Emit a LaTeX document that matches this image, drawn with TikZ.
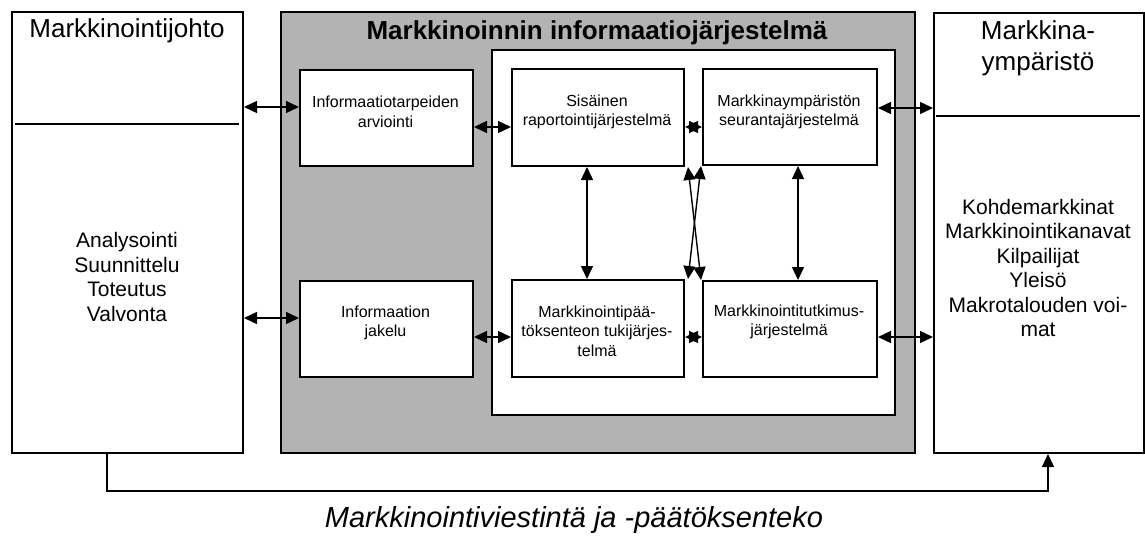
\documentclass[tikz,border=0pt]{standalone}
\usepackage{fontspec}
\setmainfont{Liberation Sans}
\usetikzlibrary{arrows.meta}
\definecolor{panelgray}{RGB}{179,179,179}
\begin{document}
\begin{tikzpicture}[x=1pt,y=-1pt,
  box/.style={draw, line width=2pt, fill=white, inner sep=0pt, anchor=north west},
  bigtxt/.style={font=\fontsize{26}{31}\selectfont, align=center, inner sep=0pt},
  bodytxt/.style={font=\fontsize{21}{24.5}\selectfont, align=center, inner sep=0pt},
  smalltxt/.style={font=\fontsize{16}{19.5}\selectfont, align=center, inner sep=0pt},
  arr/.style={{Triangle[length=13pt,width=12pt]}-{Triangle[length=13pt,width=12pt]}, line width=1.4pt},
  onearr/.style={-{Triangle[length=13pt,width=12pt]}, line width=1.4pt},
  divline/.style={line width=2pt}]
\useasboundingbox (0,0) rectangle (1145,538);

% outer boxes
\node[box, minimum width=231pt, minimum height=441pt] (L) at (11,11) {};
\node[box, fill=panelgray, minimum width=634pt, minimum height=441pt] (G) at (280,11) {};
\node[box, minimum width=403pt, minimum height=365pt] (I) at (491,49) {};
\node[box, minimum width=210pt, minimum height=440pt] (R) at (933,12) {};

% inner boxes
\node[box, minimum width=173pt, minimum height=96pt] (A) at (299,69) {};
\node[box, minimum width=173pt, minimum height=96pt] (B) at (299,280) {};
\node[box, minimum width=172pt, minimum height=97pt] (C) at (511,68) {};
\node[box, minimum width=174pt, minimum height=96pt] (D) at (702,68) {};
\node[box, minimum width=172pt, minimum height=97pt] (E) at (511,279) {};
\node[box, minimum width=174pt, minimum height=96pt] (F) at (702,280) {};

% dividers
\draw[divline] (15,124) -- (239,124);
\draw[divline] (936,116) -- (1140,116);

% texts
\node[bigtxt] (Lt) at (127,31) {Markkinointijohto};
\node[bodytxt] (Lb) at (127,277) {Analysointi\\Suunnittelu\\Toteutus\\Valvonta};
\node[bigtxt, font=\fontsize{26}{31}\selectfont\bfseries] (Gt) at (597,33) {Markkinoinnin informaatiojärjestelmä};
\node[bigtxt] (Rt) at (1038,48) {Markkina-\\ympäristö};
\node[bodytxt] (Rb) at (1038,268) {Kohdemarkkinat\\Markkinointikanavat\\Kilpailijat\\Yleisö\\Makrotalouden voi-\\mat};
\node[smalltxt] (At) at (385.5,112) {Informaatiotarpeiden\\arviointi};
\node[smalltxt] (Bt) at (385.5,323) {Informaation\\jakelu};
\node[smalltxt] (Ct) at (597,112) {Sisäinen\\raportointijärjestelmä};
\node[smalltxt] (Dt) at (789,112) {Markkinaympäristön\\seurantajärjestelmä};
\node[smalltxt] (Et) at (597,331) {Markkinointipää-\\töksenteon tukijärjes-\\telmä};
\node[smalltxt] (Ft) at (789,322) {Markkinointitutkimus-\\järjestelmä};
\node[bigtxt, font=\fontsize{29}{34}\selectfont\itshape] (bt) at (574,520) {Markkinointiviestintä ja -päätöksenteko};

% helper coordinates
\coordinate (y107) at (0,107);
\coordinate (y318) at (0,318);
\coordinate (y127) at (0,127);
\coordinate (y337) at (0,337);
\coordinate (y108) at (0,108);
\coordinate (x587) at (587,0);
\coordinate (x798) at (798,0);
\coordinate (b1) at (107,491);
\coordinate (b2) at (1048,491);

% connectors
\draw[arr] (L.east |- y107) -- (A.west |- y107);
\draw[arr] (L.east |- y318) -- (B.west |- y318);
\draw[arr] (A.east |- y127) -- (C.west |- y127);
\draw[arr] (B.east |- y337) -- (E.west |- y337);
\draw[arr] (C.east |- y127) -- (D.west |- y127);
\draw[arr] (E.east |- y337) -- (F.west |- y337);
\draw[arr] (D.east |- y108) -- (R.west |- y108);
\draw[arr] (F.east |- y337) -- (R.west |- y337);
\draw[arr] (C.south -| x587) -- (E.north -| x587);
\draw[arr] (D.south -| x798) -- (F.north -| x798);
\draw[arr] ([xshift=3pt]C.south east) -- ([xshift=-1pt]F.north west);
\draw[arr] ([xshift=-1pt]D.south west) -- ([xshift=3pt]E.north east);
\draw[onearr] (L.south -| b1) -- (b1) -- (b2) -- (R.south -| b2);
\end{tikzpicture}
\end{document}
